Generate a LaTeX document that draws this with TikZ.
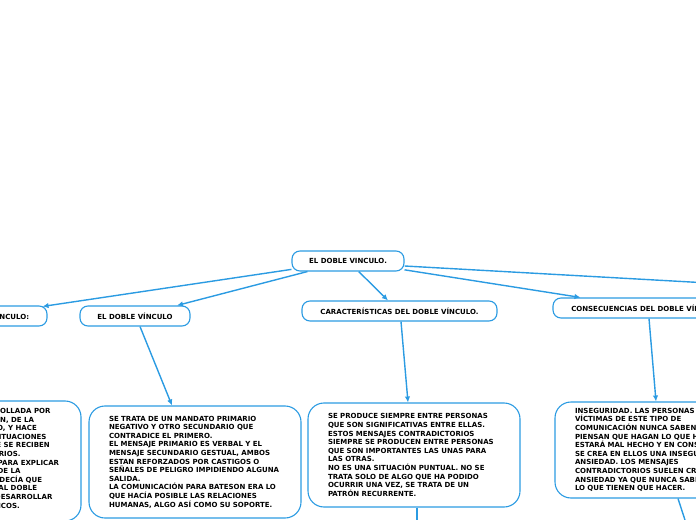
\documentclass[tikz,border=0pt]{standalone}
\usepackage{fontspec}
\setmainfont{DejaVu Sans}
\usetikzlibrary{arrows.meta,calc}
\definecolor{mmblue}{RGB}{43,155,226}
\begin{document}
\begin{tikzpicture}[x=1bp,y=-1bp,
  every node/.style={font=\fontsize{7bp}{8.6bp}\selectfont\bfseries, text=black},
  title/.style={draw=mmblue, line width=1.1bp, rounded corners=8bp, minimum height=20bp, inner sep=0pt},
  bigbox/.style={draw=mmblue, line width=1.1bp, rounded corners=16bp, inner xsep=20bp, inner ysep=0pt, text width=172bp, align=left},
  conn/.style={draw=mmblue, line width=1.4bp, -{Latex[length=6bp,width=5.5bp]}},
  frag/.style={anchor=base east, inner sep=0pt}
  ]
\useasboundingbox (0,0) rectangle (696,520);

% title nodes
\node[title, minimum width=112bp] (root) at (348,261) {EL DOBLE VINCULO.};
\node[title, minimum width=114bp] (n1) at (-10,316) {EL DOBLE VÍNCULO:};
\node[title, minimum width=110bp] (n2) at (135,316) {EL DOBLE VÍNCULO};
\node[title, minimum width=195bp] (n3) at (399.5,311) {CARACTERÍSTICAS DEL DOBLE VÍNCULO.};
\node[title, minimum width=189bp] (n4) at (647.5,308) {CONSECUENCIAS DEL DOBLE VÍNCULO.};
\coordinate (n5) at (780,287);

% big boxes
\node[bigbox, minimum height=120bp] (b1) at (-25,461) {};
\node[bigbox, minimum height=112bp] (b2) at (195,462) {SE TRATA DE UN MANDATO PRIMARIO\\
NEGATIVO Y OTRO SECUNDARIO QUE\\
CONTRADICE EL PRIMERO.\\
EL MENSAJE PRIMARIO ES VERBAL Y EL\\
MENSAJE SECUNDARIO GESTUAL, AMBOS\\
ESTAN REFORZADOS POR CASTIGOS O\\
SEÑALES DE PELIGRO IMPIDIENDO ALGUNA\\
SALIDA.\\
LA COMUNICACIÓN PARA BATESON ERA LO\\
QUE HACÍA POSIBLE LAS RELACIONES\\
HUMANAS, ALGO ASÍ COMO SU SOPORTE.};
\node[bigbox, minimum height=104bp] (b3) at (414,455) {SE PRODUCE SIEMPRE ENTRE PERSONAS\\
QUE SON SIGNIFICATIVAS ENTRE ELLAS.\\
ESTOS MENSAJES CONTRADICTORIOS\\
SIEMPRE SE PRODUCEN ENTRE PERSONAS\\
QUE SON IMPORTANTES LAS UNAS PARA\\
LAS OTRAS.\\
NO ES UNA SITUACIÓN PUNTUAL. NO SE\\
TRATA SOLO DE ALGO QUE HA PODIDO\\
OCURRIR UNA VEZ, SE TRATA DE UN\\
PATRÓN RECURRENTE.};
\node[bigbox, minimum height=96bp] (b4) at (661,450) {INSEGURIDAD. LAS PERSONAS\\
VÍCTIMAS DE ESTE TIPO DE\\
COMUNICACIÓN NUNCA SABEN SI\\
PIENSAN QUE HAGAN LO QUE HAGAN\\
ESTARÁ MAL HECHO Y EN CONSECUENCIA\\
SE CREA EN ELLOS UNA INSEGURIDAD Y\\
ANSIEDAD. LOS MENSAJES\\
CONTRADICTORIOS SUELEN CREAR\\
ANSIEDAD YA QUE NUNCA SABEN\\
LO QUE TIENEN QUE HACER.};

% text of the cut-off left box
\node[frag] (l1) at (50.7,413.5) {TEORÍA DESARROLLADA POR};
\node[frag] (l2) at (34.3,422.1) {GREGORY BATESON, DE LA};
\node[frag] (l3) at (37,430.7) {ESCUELA DE PALO ALTO, Y HACE};
\node[frag] (l4) at (46.7,439.3) {REFERENCIA A SITUACIONES};
\node[frag] (l5) at (50,447.9) {EN LAS QUE SE RECIBEN};
\node[frag] (l6) at (20.7,456.5) {MENSAJES CONTRADICTORIOS.};
\node[frag] (l7) at (59.3,465.1) {ESTA TEORÍA SURGE PARA EXPLICAR};
\node[frag] (l8) at (20.7,473.7) {EL ORIGEN DE LA};
\node[frag] (l9) at (42.3,482.3) {ESQUIZOFRENIA; BATESON DECÍA QUE};
\node[frag] (l10) at (37.3,490.9) {EL SOMETIMIENTO AL DOBLE};
\node[frag] (l11) at (52.7,499.5) {VÍNCULO PODÍA DESARROLLAR};
\node[frag] (l12) at (20,508.1) {SÍNTOMAS ESQUIZOFRÉNICOS.};

\coordinate (c3) at (417,560);
\coordinate (c4) at (698,560);

% connectors
\draw[conn] (root) -- ($(n1.north east)+(-5,1)$);
\draw[conn] (root) -- ($(n2.north)+(42,0)$);
\draw[conn] (root) -- ($(n3.north)+(-11.5,0)$);
\draw[conn] (root) -- ($(n4.north)+(-67,0)$);
\draw[conn] ($(root.east)+(0,5)$) -- (n5);
\draw[conn] ($(n1.south)+(5,0)$) -- ($(b1.north)+(-23,0)$);
\draw[conn] ($(n2.south)+(5,0)$) -- ($(b2.north)+(-23,0)$);
\draw[conn] ($(n3.south)+(1.5,0)$) -- ($(b3.north)+(-6,0)$);
\draw[conn] ($(n4.south)+(1.5,0)$) -- ($(b4.north)+(-5,0)$);
\draw[conn] ($(b3.south)+(3,0)$) -- (c3);
\draw[conn] ($(b4.south)+(17,0)$) -- (c4);
\end{tikzpicture}
\end{document}
